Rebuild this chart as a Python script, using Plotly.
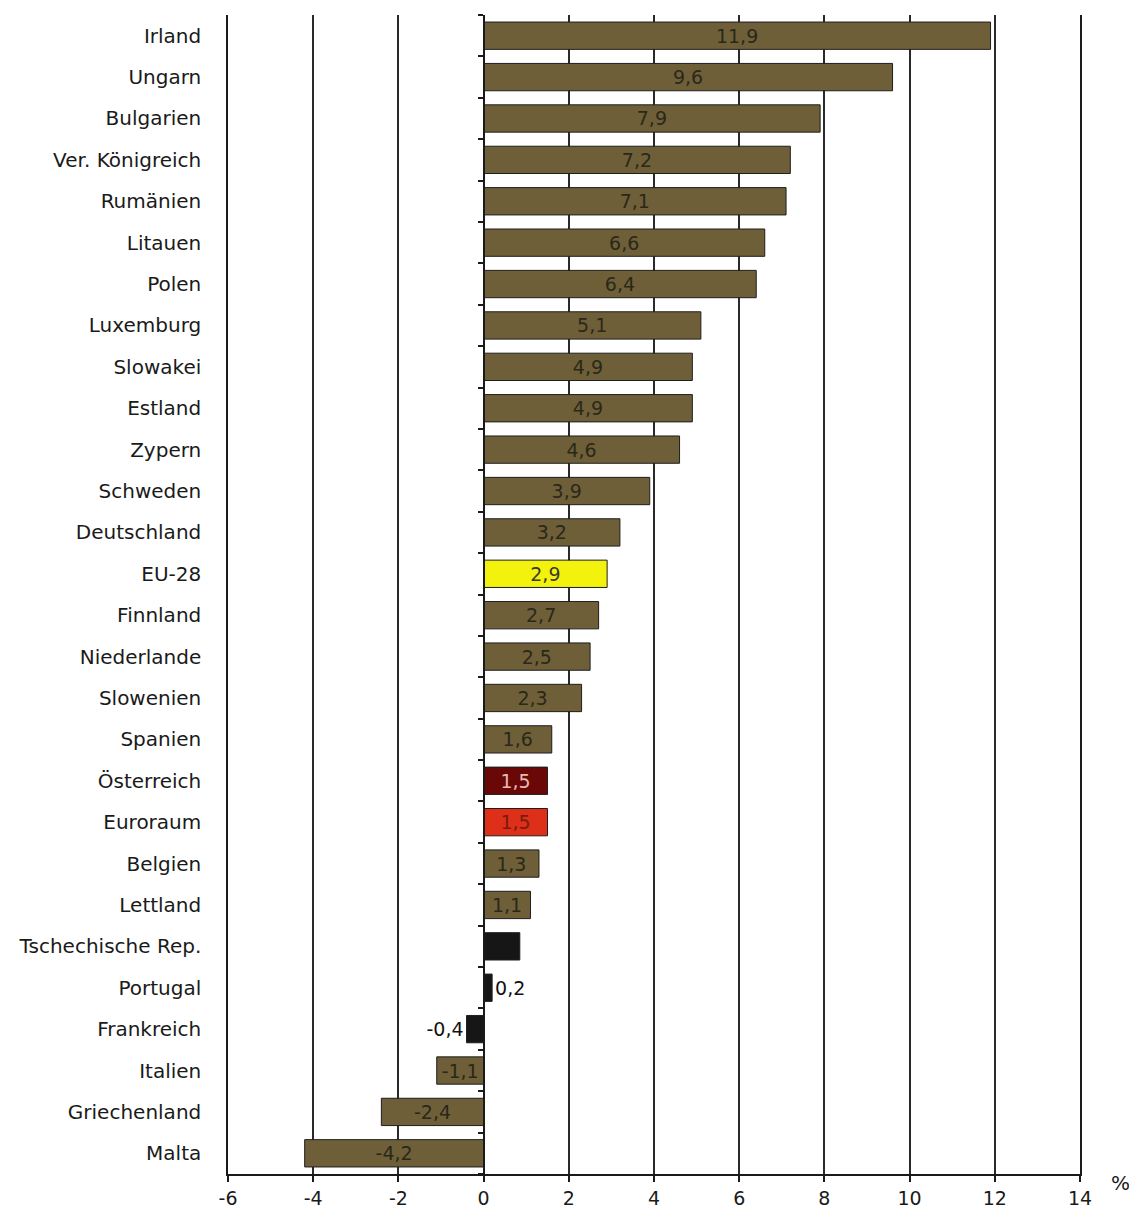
import plotly.graph_objects as go

countries = ["Irland", "Ungarn", "Bulgarien", "Ver. Königreich", "Rumänien", "Litauen", "Polen",
             "Luxemburg", "Slowakei", "Estland", "Zypern", "Schweden", "Deutschland", "EU-28",
             "Finnland", "Niederlande", "Slowenien", "Spanien", "Österreich", "Euroraum", "Belgien",
             "Lettland", "Tschechische Rep.", "Portugal", "Frankreich", "Italien", "Griechenland", "Malta"]
values = [11.9, 9.6, 7.9, 7.2, 7.1, 6.6, 6.4, 5.1, 4.9, 4.9, 4.6, 3.9, 3.2, 2.9, 2.7, 2.5, 2.3,
          1.6, 1.5, 1.5, 1.3, 1.1, 0.85, 0.2, -0.4, -1.1, -2.4, -4.2]
labels = ["11,9", "9,6", "7,9", "7,2", "7,1", "6,6", "6,4", "5,1", "4,9", "4,9", "4,6", "3,9", "3,2",
          "2,9", "2,7", "2,5", "2,3", "1,6", "1,5", "1,5", "1,3", "1,1", "", "0,2", "-0,4", "-1,1",
          "-2,4", "-4,2"]
x_ticks = [-6, -4, -2, 0, 2, 4, 6, 8, 10, 12, 14]

OLIVE = "#6E5F38"
special_colors = {"EU-28": "#F2F20C", "Österreich": "#6A0808", "Euroraum": "#DE3018",
                  "Tschechische Rep.": "#161616", "Portugal": "#161616", "Frankreich": "#161616"}
special_text = {"Österreich": "#E9B8B2", "Euroraum": "#7A1A10", "EU-28": "#3A3A2A",
                "Portugal": "#111111", "Frankreich": "#111111"}
outside = {"Portugal", "Frankreich"}

ypos = list(range(len(countries)))
colors = [special_colors.get(c, OLIVE) for c in countries]
tcolors = [special_text.get(c, "#2A2818") for c in countries]
tpos = ["outside" if c in outside else "inside" for c in countries]

fig = go.Figure()
fig.add_trace(go.Bar(
    x=values, y=ypos, orientation="h", width=0.66,
    marker=dict(color=colors, line=dict(color="#1E1E1E", width=1)),
    text=labels, textposition=tpos, insidetextanchor="middle",
    textfont=dict(family="DejaVu Sans", size=19, color=tcolors),
    constraintext="none", cliponaxis=False, hoverinfo="skip", showlegend=False,
))
# invisible trace to carry the zero-position category tick axis
fig.add_trace(go.Scatter(x=[0], y=[0], yaxis="y2", mode="markers",
                         marker=dict(opacity=0), hoverinfo="skip", showlegend=False))

yr = [len(countries) - 0.5, -0.5]
fig.update_layout(
    width=1129, height=1211,
    margin=dict(l=228, r=49, t=15, b=37),
    paper_bgcolor="white", plot_bgcolor="white",
    font=dict(family="DejaVu Sans", size=20, color="#1A1A1A"),
    xaxis=dict(range=[-6, 14], tickvals=x_ticks, ticktext=[str(v) for v in x_ticks],
               showgrid=True, gridcolor="#2A2A2A", gridwidth=1.5, zeroline=False,
               showline=True, linecolor="#1A1A1A", linewidth=1.5, automargin=False,
               ticks="outside", ticklen=6, tickcolor="#1A1A1A", tickwidth=1.5,
               tickfont=dict(size=19)),
    yaxis=dict(range=yr, tickvals=ypos, ticktext=countries, showgrid=False, zeroline=False,
               showline=True, mirror=True, linecolor="#1A1A1A", linewidth=1.5, ticks="",
               automargin=False, ticklabelstandoff=21, tickfont=dict(size=20)),
    yaxis2=dict(overlaying="y", anchor="free", position=0.3, side="left", range=yr,
                tickvals=[i - 0.5 for i in range(len(countries) + 1)], automargin=False,
                ticks="outside", ticklen=5, tickcolor="#1A1A1A", tickwidth=1.5,
                showticklabels=False, showgrid=False, zeroline=False,
                showline=True, linecolor="#1A1A1A", linewidth=1.5),
    annotations=[dict(text="%", xref="paper", yref="paper", x=1.047, y=-0.008,
                      xanchor="center", yanchor="middle", showarrow=False,
                      font=dict(size=20, color="#1A1A1A"))],
)

fig.write_html("out.html")
